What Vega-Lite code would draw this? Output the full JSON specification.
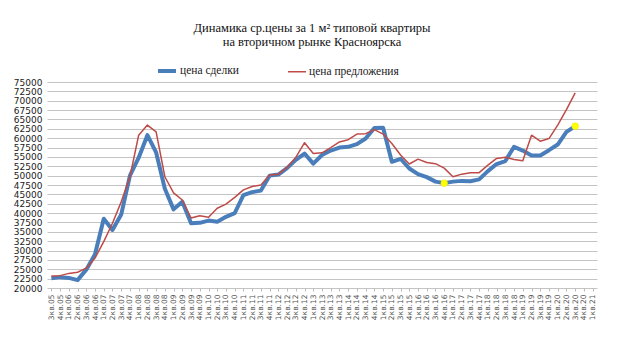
{
  "$schema": "https://vega.github.io/schema/vega-lite/v6.json",
  "width": 550,
  "height": 206,
  "autosize": {"type": "none"},
  "padding": {"left": 47, "top": 82, "right": 23, "bottom": 73},
  "background": "white",
  "title": {
    "text": ["Динамика ср.цены за 1 м² типовой квартиры", "на вторичном рынке Красноярска"],
    "font": "Liberation Serif",
    "fontSize": 12.5,
    "fontWeight": "normal",
    "color": "#111",
    "anchor": "middle",
    "frame": "group",
    "dx": -10,
    "offset": 12,
    "lineHeight": 14
  },
  "datasets": {
    "prices": [
      {"q": "3кв.05", "цена сделки": 22600, "цена предложения": 23200},
      {"q": "4кв.05", "цена сделки": 22900, "цена предложения": 23300},
      {"q": "1кв.06", "цена сделки": 22700, "цена предложения": 23900},
      {"q": "2кв.06", "цена сделки": 22100, "цена предложения": 24200},
      {"q": "3кв.06", "цена сделки": 24900, "цена предложения": 25300},
      {"q": "4кв.06", "цена сделки": 29000, "цена предложения": 28000},
      {"q": "1кв.07", "цена сделки": 38500, "цена предложения": 32400},
      {"q": "2кв.07", "цена сделки": 35500, "цена предложения": 37300},
      {"q": "3кв.07", "цена сделки": 39600, "цена предложения": 43000},
      {"q": "4кв.07", "цена сделки": 50000, "цена предложения": 49700},
      {"q": "1кв.08", "цена сделки": 54800, "цена предложения": 60800},
      {"q": "2кв.08", "цена сделки": 60800, "цена предложения": 63500},
      {"q": "3кв.08", "цена сделки": 56200, "цена предложения": 61700},
      {"q": "4кв.08", "цена сделки": 46500, "цена предложения": 49700},
      {"q": "1кв.09", "цена сделки": 41000, "цена предложения": 45400},
      {"q": "2кв.09", "цена сделки": 43000, "цена предложения": 43500},
      {"q": "3кв.09", "цена сделки": 37300, "цена предложения": 38700},
      {"q": "4кв.09", "цена сделки": 37400, "цена предложения": 39300},
      {"q": "1кв.10", "цена сделки": 38000, "цена предложения": 38900},
      {"q": "2кв.10", "цена сделки": 37700, "цена предложения": 41300},
      {"q": "3кв.10", "цена сделки": 39000, "цена предложения": 42400},
      {"q": "4кв.10", "цена сделки": 40000, "цена предложения": 44200},
      {"q": "1кв.11", "цена сделки": 44800, "цена предложения": 46200},
      {"q": "2кв.11", "цена сделки": 45600, "цена предложения": 47100},
      {"q": "3кв.11", "цена сделки": 46000, "цена предложения": 47500},
      {"q": "4кв.11", "цена сделки": 50000, "цена предложения": 50200},
      {"q": "1кв.12", "цена сделки": 50300, "цена предложения": 50400},
      {"q": "2кв.12", "цена сделки": 52000, "цена предложения": 52200},
      {"q": "3кв.12", "цена сделки": 54200, "цена предложения": 54900},
      {"q": "4кв.12", "цена сделки": 55900, "цена предложения": 58800},
      {"q": "1кв.13", "цена сделки": 53200, "цена предложения": 55900},
      {"q": "2кв.13", "цена сделки": 55500, "цена предложения": 56100},
      {"q": "3кв.13", "цена сделки": 56700, "цена предложения": 57500},
      {"q": "4кв.13", "цена сделки": 57500, "цена предложения": 59000},
      {"q": "1кв.14", "цена сделки": 57700, "цена предложения": 59600},
      {"q": "2кв.14", "цена сделки": 58400, "цена предложения": 61100},
      {"q": "3кв.14", "цена сделки": 59900, "цена предложения": 61200},
      {"q": "4кв.14", "цена сделки": 62700, "цена предложения": 62300},
      {"q": "1кв.15", "цена сделки": 62800, "цена предложения": 61100},
      {"q": "2кв.15", "цена сделки": 53700, "цена предложения": 58600},
      {"q": "3кв.15", "цена сделки": 54500, "цена предложения": 55500},
      {"q": "4кв.15", "цена сделки": 51900, "цена предложения": 53100},
      {"q": "1кв.16", "цена сделки": 50400, "цена предложения": 54400},
      {"q": "2кв.16", "цена сделки": 49600, "цена предложения": 53500},
      {"q": "3кв.16", "цена сделки": 48400, "цена предложения": 53200},
      {"q": "4кв.16", "цена сделки": 48000, "цена предложения": 52000},
      {"q": "1кв.17", "цена сделки": 48400, "цена предложения": 49700},
      {"q": "2кв.17", "цена сделки": 48600, "цена предложения": 50400},
      {"q": "3кв.17", "цена сделки": 48500, "цена предложения": 50800},
      {"q": "4кв.17", "цена сделки": 49000, "цена предложения": 50800},
      {"q": "1кв.18", "цена сделки": 51200, "цена предложения": 52800},
      {"q": "2кв.18", "цена сделки": 53100, "цена предложения": 54600},
      {"q": "3кв.18", "цена сделки": 53900, "цена предложения": 54900},
      {"q": "4кв.18", "цена сделки": 57700, "цена предложения": 54300},
      {"q": "1кв.19", "цена сделки": 56700, "цена предложения": 54000},
      {"q": "2кв.19", "цена сделки": 55400, "цена предложения": 60800},
      {"q": "3кв.19", "цена сделки": 55400, "цена предложения": 59200},
      {"q": "4кв.19", "цена сделки": 56800, "цена предложения": 59900},
      {"q": "1кв.20", "цена сделки": 58300, "цена предложения": 63500},
      {"q": "2кв.20", "цена сделки": 61700, "цена предложения": 67600},
      {"q": "3кв.20", "цена сделки": 63200, "цена предложения": 72100}
    ],
    "highlights": [
      {"q": "4кв.16", "price": 48000},
      {"q": "3кв.20", "price": 63200}
    ]
  },
  "encoding": {
    "x": {
      "field": "q",
      "type": "ordinal",
      "sort": null,
      "scale": {
        "type": "point",
        "padding": 0.5,
        "domain": ["3кв.05","4кв.05","1кв.06","2кв.06","3кв.06","4кв.06","1кв.07","2кв.07","3кв.07","4кв.07","1кв.08","2кв.08","3кв.08","4кв.08","1кв.09","2кв.09","3кв.09","4кв.09","1кв.10","2кв.10","3кв.10","4кв.10","1кв.11","2кв.11","3кв.11","4кв.11","1кв.12","2кв.12","3кв.12","4кв.12","1кв.13","2кв.13","3кв.13","4кв.13","1кв.14","2кв.14","3кв.14","4кв.14","1кв.15","2кв.15","3кв.15","4кв.15","1кв.16","2кв.16","3кв.16","4кв.16","1кв.17","2кв.17","3кв.17","4кв.17","1кв.18","2кв.18","3кв.18","4кв.18","1кв.19","2кв.19","3кв.19","4кв.19","1кв.20","2кв.20","3кв.20","4кв.20","1кв.21"]
      },
      "axis": {
        "title": null,
        "labelAngle": -90,
        "labelFont": "DejaVu Sans",
        "labelFontSize": 7.5,
        "labelColor": "#555",
        "labelOverlap": false,
        "labelPadding": 3,
        "grid": false,
        "domain": false,
        "ticks": true,
        "tickColor": "#bbb",
        "tickSize": 3
      }
    },
    "y": {
      "field": "price",
      "type": "quantitative",
      "scale": {"domain": [20000, 75000], "nice": false, "zero": false},
      "axis": {
        "title": null,
        "values": [20000,22500,25000,27500,30000,32500,35000,37500,40000,42500,45000,47500,50000,52500,55000,57500,60000,62500,65000,67500,70000,72500,75000],
        "format": "d",
        "grid": true,
        "gridColor": "#c4c4c4",
        "gridWidth": 1,
        "domain": false,
        "ticks": false,
        "labelOverlap": false,
        "labelFlush": false,
        "labelBound": false,
        "labelFont": "DejaVu Sans",
        "labelFontSize": 9,
        "labelColor": "#222",
        "labelPadding": 5
      }
    }
  },
  "layer": [
    {
      "data": {"name": "prices"},
      "transform": [{"fold": ["цена сделки", "цена предложения"], "as": ["series", "price"]}],
      "mark": {"type": "line", "strokeJoin": "round"},
      "encoding": {
        "color": {
          "field": "series",
          "type": "nominal",
          "scale": {"domain": ["цена сделки", "цена предложения"], "range": ["#4a7ebb", "#be4b48"]},
          "legend": {
            "title": null,
            "orient": "none",
            "legendX": 109,
            "legendY": -22,
            "direction": "horizontal",
            "labelFont": "Liberation Serif",
            "labelFontSize": 11.5,
            "labelColor": "#222",
            "symbolType": "stroke",
            "symbolSize": 324,
            "columnPadding": 46,
            "labelOffset": 2
          }
        },
        "strokeWidth": {
          "field": "series",
          "type": "nominal",
          "scale": {"domain": ["цена сделки", "цена предложения"], "range": [4, 1.5]}
        }
      }
    },
    {
      "data": {"name": "highlights"},
      "mark": {"type": "point", "filled": true, "fill": "#ffff00", "stroke": "#e6e600", "strokeWidth": 0.5, "size": 45, "opacity": 1}
    }
  ],
  "config": {
    "view": {"stroke": null}
  }
}
